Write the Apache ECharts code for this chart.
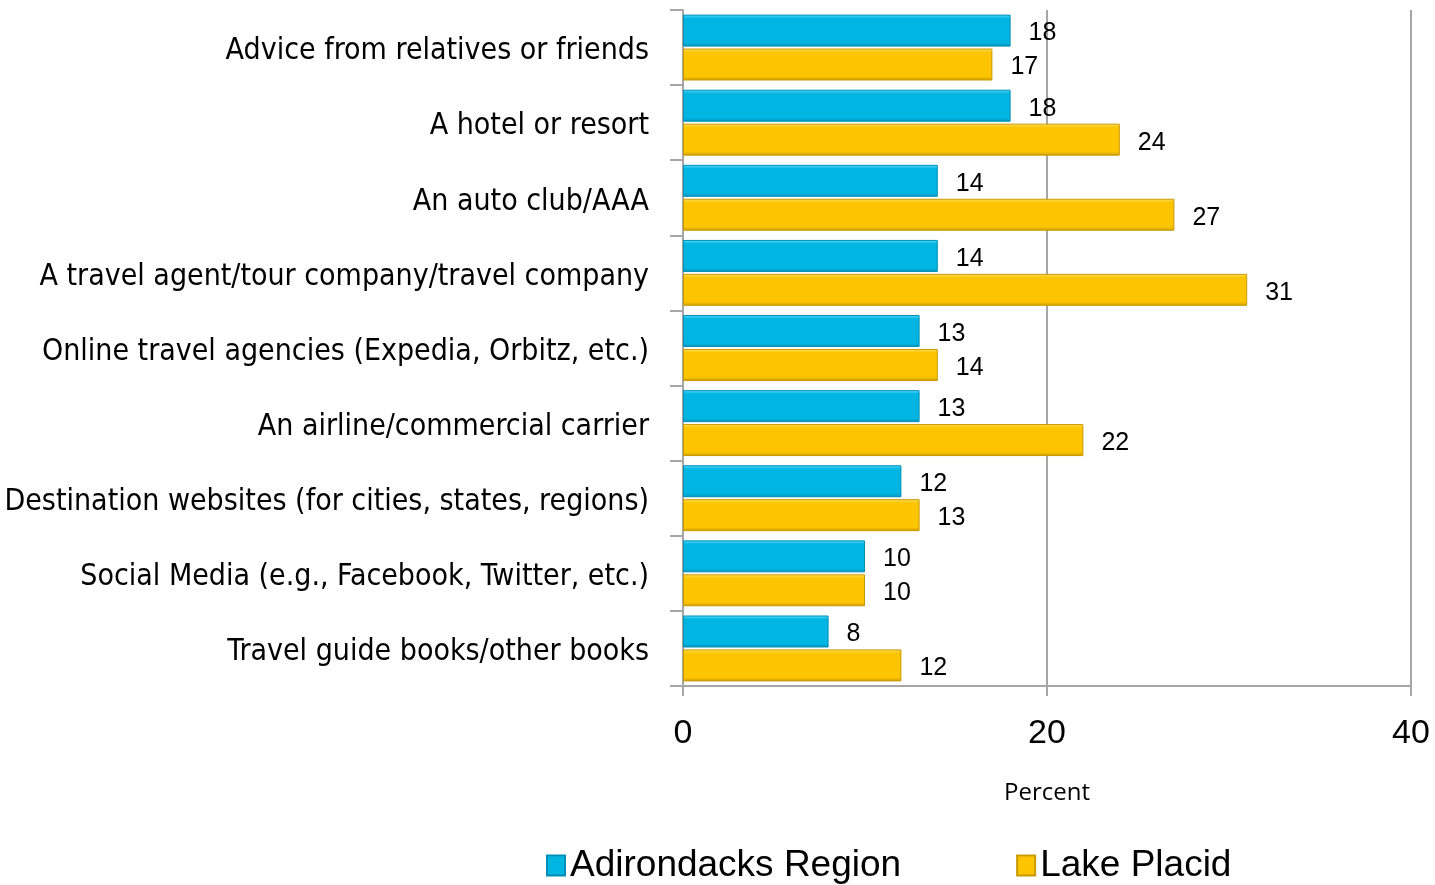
<!DOCTYPE html>
<html>
<head>
<meta charset="utf-8">
<script src="https://cdn.jsdelivr.net/npm/echarts@6/dist/echarts.min.js"></script>
<style>
  html, body { margin: 0; padding: 0; background: #fff; }
  #chart { width: 1435px; height: 885px; }
</style>
</head>
<body>
<div id="chart"></div>
<script>
// Sources of travel information, percent of respondents
const categories = [
  'Advice from relatives or friends',
  'A hotel or resort',
  'An auto club/AAA',
  'A travel agent/tour company/travel company',
  'Online travel agencies (Expedia, Orbitz, etc.)',
  'An airline/commercial carrier',
  'Destination websites (for cities, states, regions)',
  'Social Media (e.g., Facebook, Twitter, etc.)',
  'Travel guide books/other books'
];
const adirondacks = [18, 18, 14, 14, 13, 13, 12, 10, 8];
const lakePlacid = [17, 24, 27, 31, 14, 22, 13, 10, 12];
const xTicks = [0, 20, 40];

const chart = echarts.init(document.getElementById('chart'));

function barStyle(light, main, dark) {
  return {
    color: new echarts.graphic.LinearGradient(0, 0, 0, 1, [
      { offset: 0, color: light },
      { offset: 0.12, color: main },
      { offset: 0.88, color: main },
      { offset: 1, color: dark }
    ]),
    borderColor: dark,
    borderWidth: 1
  };
}

const labelStyle = {
  show: true,
  position: 'right',
  distance: 18,
  offset: [0, 3],
  fontFamily: 'Liberation Sans',
  fontSize: 25,
  color: '#000'
};

const catFont = '"DejaVu Sans Condensed", "Liberation Sans Narrow", sans-serif';

chart.setOption({
  animation: false,
  grid: { left: 683, right: 24, top: 10, bottom: 199, containLabel: false },
  legend: {
    bottom: -4,
    left: 541,
    icon: 'rect',
    itemWidth: 18,
    itemHeight: 20,
    itemGap: 115,
    textStyle: { fontFamily: 'Liberation Sans', fontSize: 37, color: '#000' },
    data: ['Adirondacks Region', 'Lake Placid']
  },
  xAxis: {
    type: 'value',
    min: xTicks[0],
    max: xTicks[xTicks.length - 1],
    interval: xTicks[1] - xTicks[0],
    name: 'Percent',
    nameLocation: 'middle',
    nameGap: 95,
    nameTextStyle: { fontFamily: 'Open Sans', fontSize: 24, color: '#000' },
    axisLine: { show: true, lineStyle: { color: '#a6a6a6', width: 2 } },
    axisTick: { show: true, length: 10, lineStyle: { color: '#a6a6a6', width: 2 } },
    axisLabel: { fontFamily: 'Liberation Sans', fontSize: 34, color: '#000', margin: 31 },
    splitLine: { show: true, lineStyle: { color: '#a6a6a6', width: 2 } }
  },
  yAxis: {
    type: 'category',
    inverse: true,
    data: categories,
    axisLine: { show: true, lineStyle: { color: '#a6a6a6', width: 2 } },
    axisTick: { show: true, length: 13, lineStyle: { color: '#a6a6a6', width: 2 } },
    axisLabel: {
      fontFamily: catFont,
      fontSize: 30,
      color: '#000',
      margin: 34,
      formatter: v => '{c|' + v + '}',
      rich: {
        c: { fontFamily: catFont, fontSize: 30, color: '#000', padding: [8, 0, 0, 0] }
      }
    }
  },
  series: [
    {
      name: 'Adirondacks Region',
      type: 'bar',
      data: adirondacks,
      barWidth: 32,
      barGap: '6%',
      itemStyle: barStyle('#5fdcff', '#00b5e2', '#0090b5'),
      label: labelStyle
    },
    {
      name: 'Lake Placid',
      type: 'bar',
      data: lakePlacid,
      barWidth: 32,
      itemStyle: barStyle('#ffe066', '#fcc500', '#c99a00'),
      label: labelStyle
    }
  ]
});
</script>
</body>
</html>
